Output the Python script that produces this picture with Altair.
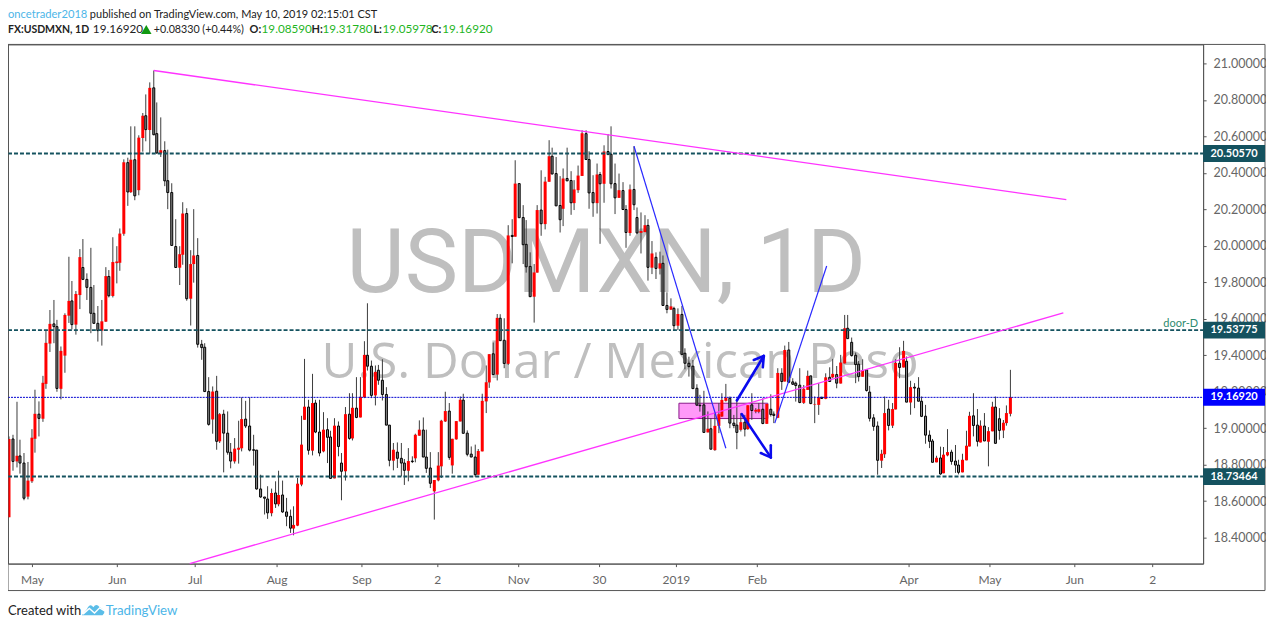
import altair as alt
import pandas as pd

opens = [18.512,18.941,18.818,18.848,18.809,18.625,18.709,18.942,19.077,19.052,
19.243,19.464,19.572,19.557,19.216,19.398,19.617,19.698,19.568,19.730,
19.881,19.816,19.772,19.630,19.575,19.535,19.584,19.832,19.725,19.905,
19.907,20.066,20.456,20.294,20.472,20.305,20.591,20.713,20.635,20.866,
20.615,20.509,20.522,20.357,20.292,19.996,19.880,19.951,20.177,19.710,
19.900,19.947,19.460,19.444,19.201,19.048,19.203,18.928,19.077,18.973,
18.868,18.818,18.882,18.890,19.050,19.012,18.882,18.880,18.667,18.623,
18.612,18.534,18.645,18.583,18.634,18.541,18.517,18.450,18.466,18.691,
19.046,19.116,18.877,19.138,18.979,18.873,18.992,18.952,18.725,19.012,
18.809,18.764,19.077,18.944,19.110,19.059,19.170,19.400,19.340,19.180,
19.318,19.263,19.185,19.017,18.822,18.869,18.835,18.809,18.767,18.820,
18.835,18.959,18.990,18.842,18.782,18.654,18.714,18.791,19.037,19.094,
18.796,18.939,19.037,19.154,18.973,18.858,18.842,18.745,18.873,19.147,
19.251,19.408,19.294,19.603,19.482,19.353,20.057,20.050,20.341,20.155,
20.008,19.887,19.721,19.853,20.196,20.119,20.351,20.491,20.396,20.221,
20.203,20.369,20.358,20.234,20.305,20.383,20.615,20.473,20.292,20.234,
20.391,20.340,20.517,20.502,20.341,20.263,20.303,20.199,20.070,20.309,
20.155,20.071,20.075,20.112,19.880,19.937,19.875,19.904,19.673,19.650,
19.657,19.562,19.624,19.411,19.356,19.340,19.219,19.126,19.128,18.977,
18.997,18.880,19.013,19.064,19.150,19.164,19.028,19.017,18.991,19.033,
18.995,19.128,19.091,19.090,19.104,19.024,19.104,19.077,19.057,19.301,
19.256,19.429,19.254,19.247,19.236,19.139,19.210,19.287,19.130,19.128,
19.170,19.161,19.279,19.279,19.294,19.245,19.355,19.548,19.471,19.400,
19.351,19.282,19.320,19.198,19.057,19.012,18.822,18.857,19.105,19.014,
19.103,19.356,19.333,19.367,19.141,19.225,19.220,19.148,19.066,18.962,
18.930,18.813,18.837,18.753,18.851,18.869,18.820,18.798,18.758,18.824,
18.900,19.068,19.017,18.922,19.012,18.926,18.983,19.116,19.052,18.988,
19.028,19.079]

highs = [18.955,18.964,19.145,18.937,18.864,18.815,18.995,19.211,19.147,19.287,
19.539,19.648,19.703,19.594,19.448,19.630,19.940,19.807,19.752,19.982,
20.037,19.849,19.989,19.785,19.670,19.703,19.883,19.867,20.047,19.998,
20.095,20.474,20.483,20.655,20.655,20.606,20.728,20.830,20.896,20.961,
20.786,20.704,20.573,20.527,20.343,20.146,19.998,20.239,20.206,19.976,
20.201,20.042,19.484,19.466,19.280,19.229,19.287,19.083,19.101,19.092,
18.919,18.946,19.041,19.169,19.150,19.169,18.964,18.880,18.745,18.623,
18.682,18.669,18.709,18.767,18.713,18.618,18.554,18.572,18.727,19.068,
19.380,19.156,19.298,19.156,19.156,19.088,19.055,18.986,19.055,19.037,
18.864,19.116,19.192,19.192,19.280,19.280,19.477,19.685,19.371,19.344,
19.347,19.378,19.225,19.017,18.919,18.922,18.919,18.831,18.891,18.846,
18.970,19.043,19.059,18.992,18.869,18.716,18.869,19.046,19.200,19.138,
18.942,19.039,19.174,19.189,18.988,18.900,18.910,18.886,19.189,19.344,
19.406,19.470,19.626,19.625,19.603,20.113,20.146,20.469,20.341,20.223,
20.141,19.964,19.900,20.223,20.414,20.378,20.579,20.538,20.487,20.382,
20.424,20.538,20.409,20.360,20.440,20.633,20.633,20.518,20.387,20.451,
20.405,20.551,20.613,20.655,20.451,20.396,20.349,20.223,20.336,20.546,
20.210,20.183,20.168,20.146,20.026,19.964,19.968,19.947,19.745,19.712,
19.666,19.657,19.670,19.438,19.392,19.374,19.241,19.183,19.205,19.092,
19.055,19.082,19.137,19.192,19.243,19.174,19.073,19.155,19.082,19.073,
19.126,19.192,19.110,19.137,19.164,19.133,19.186,19.092,19.329,19.329,
19.453,19.473,19.274,19.256,19.329,19.237,19.316,19.287,19.174,19.247,
19.170,19.301,19.334,19.380,19.341,19.402,19.621,19.621,19.497,19.415,
19.369,19.378,19.324,19.232,19.077,19.037,18.882,19.174,19.156,19.138,
19.378,19.444,19.479,19.393,19.260,19.247,19.280,19.174,19.128,18.988,
18.941,18.849,18.899,18.897,18.995,18.882,18.908,18.827,18.860,18.986,
19.090,19.192,19.105,19.043,19.083,19.006,19.145,19.174,19.110,19.045,
19.125,19.320]

lows = [18.512,18.767,18.785,18.751,18.605,18.610,18.700,18.866,18.955,19.035,
19.216,19.418,19.466,19.200,19.158,19.304,19.577,19.542,19.513,19.653,
19.812,19.703,19.521,19.572,19.475,19.453,19.583,19.717,19.717,19.794,
19.863,20.055,20.219,20.290,20.250,20.277,20.516,20.573,20.505,20.606,
20.505,20.487,20.327,20.201,20.002,19.881,19.785,19.896,19.699,19.563,
19.798,19.442,19.375,19.201,19.014,18.970,18.882,18.919,18.758,18.855,
18.780,18.806,18.806,18.873,19.001,18.873,18.795,18.663,18.618,18.527,
18.503,18.517,18.563,18.572,18.536,18.463,18.426,18.413,18.463,18.682,
19.046,18.855,18.851,18.973,18.846,18.868,18.809,18.724,18.725,18.846,
18.605,18.713,18.937,18.933,19.055,19.059,19.165,19.316,19.165,19.125,
19.238,19.152,19.017,18.791,18.769,18.782,18.736,18.689,18.709,18.809,
18.813,18.959,18.842,18.755,18.672,18.499,18.709,18.727,19.034,18.827,
18.751,18.937,19.037,18.972,18.846,18.842,18.733,18.745,18.873,19.083,
19.221,19.293,19.262,19.480,19.329,19.347,19.904,20.050,20.154,19.900,
19.853,19.721,19.579,19.853,20.055,20.090,20.351,20.391,20.219,20.073,
20.108,20.356,20.170,20.196,20.290,20.383,20.473,20.203,20.159,20.177,
20.011,20.236,20.500,20.314,20.174,20.263,20.196,19.989,20.055,20.196,
20.064,19.958,20.075,19.809,19.845,19.818,19.843,19.670,19.630,19.648,
19.535,19.538,19.403,19.323,19.283,19.216,19.126,19.091,18.977,18.977,
18.885,18.876,18.973,19.061,19.146,19.000,19.000,18.885,18.982,18.955,
18.991,19.046,19.082,19.082,19.022,19.024,19.064,19.028,19.055,19.210,
19.256,19.247,19.237,19.146,19.137,19.133,19.210,19.132,19.028,19.073,
19.163,19.159,19.256,19.274,19.219,19.245,19.355,19.491,19.393,19.247,
19.256,19.282,19.201,19.037,18.986,18.745,18.782,18.837,18.988,19.001,
19.103,19.274,19.333,19.143,19.074,19.110,19.148,19.061,18.915,18.891,
18.813,18.813,18.745,18.753,18.846,18.800,18.755,18.747,18.758,18.824,
18.900,18.955,18.900,18.922,18.930,18.791,18.983,18.917,18.937,18.946,
19.014,19.065]

closes = [18.941,18.818,18.849,18.809,18.616,18.713,18.948,19.079,19.054,19.249,
19.468,19.572,19.557,19.218,19.424,19.621,19.698,19.568,19.736,19.938,
19.816,19.772,19.630,19.575,19.535,19.586,19.834,19.726,19.911,19.914,
20.067,20.458,20.295,20.472,20.274,20.593,20.713,20.637,20.866,20.609,
20.509,20.524,20.356,20.292,20.002,19.881,19.954,20.177,19.710,19.900,
19.947,19.460,19.442,19.201,19.021,19.201,18.928,19.077,18.973,18.868,
18.820,18.888,18.893,19.050,19.012,18.880,18.879,18.667,18.623,18.616,
18.536,18.645,18.585,18.634,18.541,18.517,18.452,18.470,18.696,18.910,
19.118,18.879,19.138,18.979,18.864,18.992,18.950,18.725,19.014,18.900,
18.764,19.077,18.944,19.112,19.059,19.172,19.402,19.340,19.180,19.309,
19.263,19.185,19.017,18.824,18.882,18.835,18.809,18.769,18.820,18.817,
18.964,18.992,18.842,18.780,18.698,18.716,18.795,19.041,19.094,18.840,
18.942,19.039,19.156,18.972,18.857,18.842,18.745,18.875,19.150,19.252,
19.406,19.294,19.605,19.480,19.355,20.057,20.051,20.341,20.154,20.006,
19.885,19.721,19.854,20.196,20.121,20.352,20.491,20.394,20.219,20.143,
20.369,20.356,20.236,20.309,20.385,20.617,20.473,20.290,20.236,20.391,
20.340,20.517,20.500,20.340,20.263,20.305,20.199,20.073,20.309,20.225,
20.071,20.081,20.113,19.882,19.958,19.876,19.904,19.673,19.651,19.668,
19.562,19.626,19.405,19.356,19.338,19.217,19.126,19.123,18.977,18.997,
18.885,19.013,19.077,19.155,19.168,19.028,19.015,18.977,19.033,18.995,
19.126,19.097,19.101,19.104,19.026,19.133,19.075,19.070,19.303,19.256,
19.429,19.252,19.241,19.234,19.141,19.216,19.287,19.135,19.133,19.170,
19.163,19.279,19.256,19.298,19.247,19.360,19.548,19.491,19.398,19.349,
19.283,19.318,19.207,19.054,19.010,18.824,18.860,19.083,19.015,19.105,
19.358,19.333,19.424,19.143,19.225,19.220,19.148,19.065,18.962,18.928,
18.813,18.838,18.749,18.855,18.869,18.818,18.798,18.758,18.827,18.904,
19.068,19.015,18.928,19.014,18.930,18.984,19.118,18.917,18.988,19.030,
19.083,19.170]

tick_pos = [6.1, 29.1, 50.2, 72.3, 95.3, 115.8, 137.7, 159.6, 180.4, 202.3, 243.4, 265.3, 288.3, 309.4]
tick_lab = ["May", "Jun", "Jul", "Aug", "Sep", "2", "Nov", "30", "2019", "Feb", "Apr", "May", "Jun", "2"]
price_ticks = [18.4, 18.6, 18.8, 19.0, 19.2, 19.4, 19.6, 19.8, 20.0, 20.2, 20.4, 20.6, 20.8, 21.0]

level_prices = [20.5057, 19.53775, 18.73464]
last_price = [19.1692]

mag_x1, mag_y1, mag_x2, mag_y2 = [39.0, 48.8], [20.961, 18.258], [286.1, 285.3], [20.253, 19.632]
blue_x1, blue_y1, blue_x2, blue_y2 = [169.1, 207.2], [20.546, 19.028], [194.0, 221.2], [18.890, 19.889]
arr_x1 = [197.0, 204.2, 204.2, 198.2, 206.2, 206.2]
arr_y1 = [19.152, 19.396, 19.396, 19.077, 18.840, 18.840]
arr_x2 = [204.2, 201.5, 204.0, 206.2, 203.4, 206.2]
arr_y2 = [19.396, 19.374, 19.334, 18.840, 18.864, 18.907]
box_x, box_x2, box_y, box_y2 = [181.2], [205.2], [19.137], [19.053]

FONT = "Lato"
label_map = ",".join(f"'{p}':'{l}'" for p, l in zip(tick_pos, tick_lab))
xs = alt.Scale(domain=[-0.36, 323.15], nice=False, zero=False, round=True, padding=0)
ys = alt.Scale(domain=[18.2578, 21.104], nice=False, zero=False, padding=0)
x_axis = alt.Axis(
    values=tick_pos, labelExpr="({" + label_map + "})[datum.value]", grid=False, domainColor="#555555",
    tickColor="#555555", tickSize=3, labelColor="#666666", labelFont=FONT, labelFontSize=12, labelPadding=8,
    labelFontWeight={"condition": {"test": "datum.label == '2019'", "value": "bold"}, "value": "normal"},
    labelOverlap=False, labelFlush=False)
y_axis = alt.Axis(
    orient="right", values=price_ticks, format=".5f", grid=False, domainColor="#555555",
    tickColor="#555555", tickSize=3, labelColor="#666666", labelFont=FONT, labelFontSize=12.5, labelPadding=7,
    labelOverlap=False, labelFlush=False)
X = lambda f: alt.X(f + ":Q", scale=xs, axis=x_axis, title=None)
Y = lambda f: alt.Y(f + ":Q", scale=ys, axis=y_axis, title=None)

df = pd.DataFrame({"i": range(len(opens)), "open": opens, "high": highs, "low": lows, "close": closes})


def label(text, x, y, size=11.7, color="#222222", weight="normal", align="left", baseline="alphabetic", font=FONT):
    return alt.Chart(pd.DataFrame({"t": [text]})).mark_text(
        fontSize=size, color=color, fontWeight=weight, align=align, baseline=baseline, font=font
    ).encode(text="t:N", x=alt.value(x), y=alt.value(y))


def frame(x, x2, y, y2):
    return alt.Chart(pd.DataFrame({"a": [0]})).mark_rule(color="#555555", strokeWidth=1).encode(
        x=alt.value(x), x2=alt.value(x2), y=alt.value(y), y2=alt.value(y2)
    )


def segs(x1, y1, x2, y2, color, width, cap="butt"):
    return alt.Chart(pd.DataFrame({"x": x1, "y": y1, "x2": x2, "y2": y2})).mark_rule(
        color=color, strokeWidth=width, strokeCap=cap
    ).encode(x=X("x"), y=Y("y"), x2="x2:Q", y2="y2:Q")


def hline(values, color, width, dash):
    return alt.Chart(pd.DataFrame({"p": values})).mark_rule(
        color=color, strokeWidth=width, strokeDash=dash
    ).encode(y=Y("p"), x=alt.value(0), x2=alt.value(1197))


def tag(price, color, text):
    d = pd.DataFrame({"p": [price], "t": [text]})
    r = alt.Chart(d).mark_rect(color=color, width=62, height=17).encode(y=Y("p"), x=alt.value(1228))
    t = alt.Chart(d).mark_text(color="white", fontWeight="bold", fontSize=11, font=FONT).encode(
        y=Y("p"), x=alt.value(1228), text="t:N"
    )
    return r + t


wick = alt.Chart(df).mark_rule(color="#3c3c3c", strokeWidth=1).encode(x=X("i"), y=Y("low"), y2="high:Q")
red = alt.Chart(df).transform_filter("datum.close > datum.open").mark_bar(color="#ff0000", width=3).encode(
    x=X("i"), y=Y("open"), y2="close:Q"
)
gray = alt.Chart(df).transform_filter("datum.close <= datum.open").mark_bar(
    color="#888888", stroke="#000000", strokeWidth=1, width=2
).encode(x=X("i"), y=Y("open"), y2="close:Q")

box = alt.Chart(pd.DataFrame({"x": box_x, "x2": box_x2, "y": box_y, "y2": box_y2})).mark_rect(
    fill="#ff99f8", stroke="#8a1a8a", strokeWidth=1
).encode(x=X("x"), x2="x2:Q", y=Y("y"), y2="y2:Q")

GREEN = "#1eb51e"
layers = [
    label("USDMXN, 1D", 339, 248, size=90, color="#bfbfbf", font="Roboto"),
    label("U.S. Dollar / Mexican Peso", 314, 334, size=49.3, color="#bfbfbf", font="Open Sans"),
    box, wick, red, gray,
    hline(level_prices, "#14525f", 2, [4, 2]),
    hline(last_price, "#0000d0", 1, [2, 1]),
    segs(mag_x1, mag_y1, mag_x2, mag_y2, "#ff33ff", 1.3),
    segs(blue_x1, blue_y1, blue_x2, blue_y2, "#2a2aff", 1.2),
    segs(arr_x1, arr_y1, arr_x2, arr_y2, "#0a0aee", 2.6, "round"),
    frame(0, 1259, 0, 0), frame(0, 1259, 547, 547), frame(1259, 1259, 0, 547), frame(0, 0, 0, 547),
    tag(20.5057, "#14525f", "20.50570"), tag(19.53775, "#14525f", "19.53775"),
    tag(19.1692, "#0000ff", "19.16920"), tag(18.73464, "#14525f", "18.73464"),
    label("door-D", 1192, 283, size=11, color="#2e8b70", align="right"),
    label("oncetrader2018", 0, -26, size=11.2, color="#4db6e8"),
    label("published on TradingView.com, May 10, 2019 02:15:01 CST", 82, -26, size=11),
    label("FX:USDMXN, 1D", 0, -11, size=10.5, weight="bold"),
    label("19.16920", 85, -11),
    alt.Chart(pd.DataFrame({"a": [0]})).mark_point(shape="triangle-up", filled=True, color="#119911", size=110, opacity=1).encode(
        x=alt.value(138.5), y=alt.value(-15)),
    label("+0.08330 (+0.44%)", 146, -11, size=10.7),
    label("O:", 242, -11, size=11, weight="bold"), label("19.08590", 254, -11, color=GREEN),
    label("H:", 304, -11, size=11, weight="bold"), label("19.31780", 315, -11, color=GREEN),
    label("L:", 366, -11, size=11, weight="bold"), label("19.05978", 375, -11, color=GREEN),
    label("C:", 424, -11, size=11, weight="bold"), label("19.16920", 435, -11, color=GREEN),
    label("Created with", 0, 571, size=13),
    alt.Chart(pd.DataFrame({"a": [0]})).mark_point(
        shape="M-1 0.5 L-0.55 -0.05 Q-0.3 -0.6 0 -0.2 Q0.25 -0.6 0.55 -0.2 Q1 0 0.95 0.3 L0.8 0.5 Z",
        filled=True, color="#5bbde8", size=529, opacity=1).encode(x=alt.value(85.5), y=alt.value(566)),
    alt.Chart(pd.DataFrame({"a": [0]})).mark_point(
        shape="M-0.9 0.4 L-0.35 -0.1 L0.1 0.3 L0.55 -0.15 L0.95 0.1",
        filled=False, stroke="white", strokeWidth=1.4, size=529, opacity=1).encode(x=alt.value(85.5), y=alt.value(566)),
    label("TradingView", 98, 571, size=13.3, color="#4db6e8"),
]

chart = alt.layer(*layers).properties(
    width=1197, height=520,
    padding={"left": 0, "top": 36, "right": 63, "bottom": 54},
    autosize=alt.AutoSizeParams(type="none"),
).configure_view(stroke="#555555", strokeWidth=1)

chart.save("out.html", embed_options={"renderer": "svg", "actions": False})
